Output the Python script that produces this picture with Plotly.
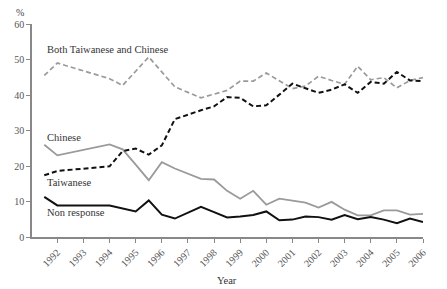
import plotly.graph_objects as go

years = [1991.5, 1992, 1994, 1994.5, 1995, 1995.5, 1996, 1996.5, 1997.5, 1998, 1998.5,
         1999, 1999.5, 2000, 2000.5, 2001, 2001.5, 2002, 2002.5, 2003, 2003.5, 2004,
         2004.5, 2005, 2005.5, 2006]

both = [45.5, 49.0, 44.6, 42.7, 46.7, 50.7, 46.5, 42.3, 39.2, 40.2, 41.3,
        43.9, 43.9, 46.2, 44.0, 41.8, 42.5, 45.3, 44.1, 43.0, 48.1, 44.3,
        44.9, 42.0, 44.1, 44.9]
taiwanese = [17.4, 18.6, 19.9, 24.2, 24.9, 23.2, 25.8, 33.2, 35.7, 36.8, 39.4,
             39.2, 36.8, 37.1, 40.1, 43.2, 41.9, 40.6, 41.5, 43.0, 40.6, 43.7,
             43.2, 46.5, 44.1, 43.9]
chinese = [26.0, 23.0, 26.1, 24.7, 20.4, 16.0, 21.1, 19.3, 16.4, 16.2, 13.0,
           10.8, 13.0, 9.1, 10.8, 10.3, 9.7, 8.3, 9.9, 7.7, 6.1, 6.1,
           7.5, 7.5, 6.3, 6.5]
nonresponse = [11.3, 8.9, 8.9, 8.0, 7.2, 10.3, 6.3, 5.2, 8.5, 7.0, 5.5,
               5.8, 6.2, 7.2, 4.7, 4.9, 5.8, 5.6, 4.9, 6.2, 5.0, 5.6,
               4.9, 3.9, 5.2, 4.2]

tick_years = list(range(1992, 2007))
tick_labels = [str(y) for y in tick_years]
y_ticks = [0, 10, 20, 30, 40, 50, 60]

GRAY = "#9a9a9a"
FONT = "Liberation Serif"
L, R, T, B = 32, 24, 24, 52
W, H = 447, 289
PW, PH = W - L - R, H - T - B


def px(x):
    return (x - L) / PW


def py(y):
    return (H - B - y) / PH


fig = go.Figure()
fig.add_trace(go.Scatter(x=years, y=both, mode="lines",
                         line=dict(color=GRAY, width=1.7, dash="5px,3px"), name="Both"))
fig.add_trace(go.Scatter(x=years, y=chinese, mode="lines",
                         line=dict(color=GRAY, width=1.8), name="Chinese"))
fig.add_trace(go.Scatter(x=years, y=taiwanese, mode="lines",
                         line=dict(color="#111111", width=2, dash="5px,3px"), name="Taiwanese"))
fig.add_trace(go.Scatter(x=years, y=nonresponse, mode="lines",
                         line=dict(color="#111111", width=2), name="Non response"))

labels = [("Both Taiwanese and Chinese", 45, 49), ("Chinese", 45, 137),
          ("Taiwanese", 45, 182), ("Non response", 45, 212)]
annotations = []
for txt, x0, y0 in labels:
    annotations.append(dict(text=txt, x=px(x0), y=py(y0), xref="paper", yref="paper",
                            xanchor="left", yanchor="middle", showarrow=False,
                            font=dict(family=FONT, size=10.5, color="#333")))
annotations.append(dict(text="%", x=px(20), y=py(12), xref="paper", yref="paper",
                        xanchor="center", yanchor="middle", showarrow=False,
                        font=dict(family=FONT, size=10, color="#444")))
annotations.append(dict(text="Year", x=px(227), y=py(280), xref="paper", yref="paper",
                        xanchor="center", yanchor="middle", showarrow=False,
                        font=dict(family=FONT, size=10.5, color="#333")))

fig.update_layout(
    width=W, height=H,
    margin=dict(l=L, r=R, t=T, b=B),
    paper_bgcolor="white", plot_bgcolor="white",
    showlegend=False,
    annotations=annotations,
    xaxis=dict(range=[1991.03, 2006], tickvals=tick_years, ticktext=tick_labels,
               tickangle=-45, showgrid=False, zeroline=False, showline=True,
               linecolor="#888", linewidth=1.5, ticks="outside", ticklen=4,
               tickcolor="#888", tickfont=dict(family=FONT, size=10, color="#555"),
               automargin=False),
    yaxis=dict(range=[0, 60], tickvals=y_ticks, showgrid=False, zeroline=False,
               showline=True, linecolor="#888", linewidth=1.5, ticks="outside",
               ticklen=4, tickcolor="#888", tickfont=dict(family=FONT, size=10, color="#555"),
               automargin=False),
)

fig.write_html("out.html")
